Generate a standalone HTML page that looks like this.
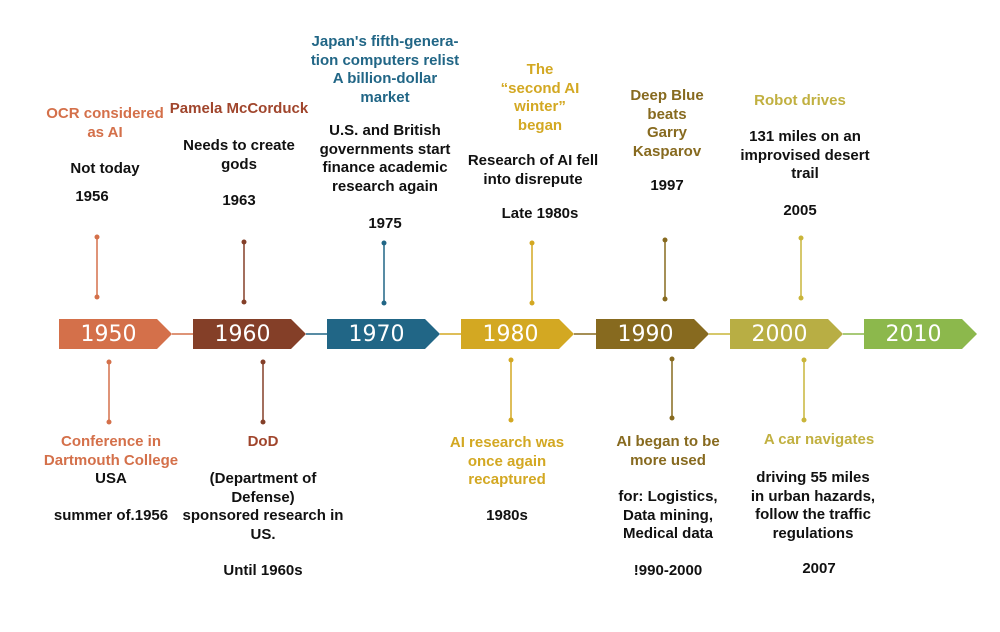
<!DOCTYPE html>
<html><head><meta charset="utf-8"><style>
body{margin:0;width:1000px;height:632px;background:#fff;position:relative;overflow:hidden;font-family:"Liberation Sans",sans-serif}
.t{position:absolute;width:260px;margin-left:-130px;text-align:center;font-weight:bold;font-size:15px;line-height:18.6px;color:#111;white-space:nowrap}
.box{position:absolute;top:319px;height:30px;width:113px;clip-path:polygon(0 0,98px 0,113px 15px,98px 30px,0 30px);color:#fff;font-size:22px;line-height:31px;text-indent:-14px;text-align:center;font-family:"DejaVu Sans","Liberation Sans",sans-serif}
</style></head><body>
<svg width="1000" height="632" style="position:absolute;left:0;top:0">
<g stroke-width="1.5">
<line x1="172" y1="334" x2="193" y2="334" stroke="#D4704A"/>
<line x1="306" y1="334" x2="327" y2="334" stroke="#216686"/>
<line x1="440" y1="334" x2="461" y2="334" stroke="#D3A822"/>
<line x1="574" y1="334" x2="596" y2="334" stroke="#876A1F"/>
<line x1="709" y1="334" x2="730" y2="334" stroke="#C9B53A"/>
<line x1="843" y1="334" x2="864" y2="334" stroke="#8CB84C"/>
</g>
<g>
<line x1="97" y1="237" x2="97" y2="297" stroke="#D4704A" stroke-width="1.5"/><circle cx="97" cy="237" r="2.5" fill="#D4704A"/><circle cx="97" cy="297" r="2.5" fill="#D4704A"/>
<line x1="244" y1="242" x2="244" y2="302" stroke="#843F28" stroke-width="1.5"/><circle cx="244" cy="242" r="2.5" fill="#843F28"/><circle cx="244" cy="302" r="2.5" fill="#843F28"/>
<line x1="384" y1="243" x2="384" y2="303" stroke="#216686" stroke-width="1.5"/><circle cx="384" cy="243" r="2.5" fill="#216686"/><circle cx="384" cy="303" r="2.5" fill="#216686"/>
<line x1="532" y1="243" x2="532" y2="303" stroke="#D3A822" stroke-width="1.5"/><circle cx="532" cy="243" r="2.5" fill="#D3A822"/><circle cx="532" cy="303" r="2.5" fill="#D3A822"/>
<line x1="665" y1="240" x2="665" y2="299" stroke="#876A1F" stroke-width="1.5"/><circle cx="665" cy="240" r="2.5" fill="#876A1F"/><circle cx="665" cy="299" r="2.5" fill="#876A1F"/>
<line x1="801" y1="238" x2="801" y2="298" stroke="#C9B53A" stroke-width="1.5"/><circle cx="801" cy="238" r="2.5" fill="#C9B53A"/><circle cx="801" cy="298" r="2.5" fill="#C9B53A"/>
<line x1="109" y1="362" x2="109" y2="422" stroke="#D4704A" stroke-width="1.5"/><circle cx="109" cy="362" r="2.5" fill="#D4704A"/><circle cx="109" cy="422" r="2.5" fill="#D4704A"/>
<line x1="263" y1="362" x2="263" y2="422" stroke="#843F28" stroke-width="1.5"/><circle cx="263" cy="362" r="2.5" fill="#843F28"/><circle cx="263" cy="422" r="2.5" fill="#843F28"/>
<line x1="511" y1="360" x2="511" y2="420" stroke="#D3A822" stroke-width="1.5"/><circle cx="511" cy="360" r="2.5" fill="#D3A822"/><circle cx="511" cy="420" r="2.5" fill="#D3A822"/>
<line x1="672" y1="359" x2="672" y2="418" stroke="#876A1F" stroke-width="1.5"/><circle cx="672" cy="359" r="2.5" fill="#876A1F"/><circle cx="672" cy="418" r="2.5" fill="#876A1F"/>
<line x1="804" y1="360" x2="804" y2="420" stroke="#C9B53A" stroke-width="1.5"/><circle cx="804" cy="360" r="2.5" fill="#C9B53A"/><circle cx="804" cy="420" r="2.5" fill="#C9B53A"/>
</g>
</svg>
<div class="box" style="left:59px;background:#D4704A">1950</div>
<div class="box" style="left:193px;background:#843F28">1960</div>
<div class="box" style="left:327px;background:#216686">1970</div>
<div class="box" style="left:461px;background:#D3A822">1980</div>
<div class="box" style="left:596px;background:#876A1F">1990</div>
<div class="box" style="left:730px;background:#B8AE44">2000</div>
<div class="box" style="left:864px;background:#8CB84C">2010</div>

<div class="t" style="left:105px;top:105px;color:#D4704A">OCR considered<br>as AI</div>
<div class="t" style="left:105px;top:160px">Not today</div>
<div class="t" style="left:92px;top:188px">1956</div>

<div class="t" style="left:239px;top:100px;color:#A0452C">Pamela McCorduck</div>
<div class="t" style="left:239px;top:137px">Needs to create<br>gods</div>
<div class="t" style="left:239px;top:192px">1963</div>

<div class="t" style="left:385px;top:33px;color:#216686">Japan's fifth-genera-<br>tion computers relist<br>A billion-dollar<br>market</div>
<div class="t" style="left:385px;top:122px">U.S. and British<br>governments start<br>finance academic<br>research again</div>
<div class="t" style="left:385px;top:215px">1975</div>

<div class="t" style="left:540px;top:61px;color:#D3A822">The<br>“second AI<br>winter”<br>began</div>
<div class="t" style="left:533px;top:152px">Research of AI fell<br>into disrepute</div>
<div class="t" style="left:540px;top:205px">Late 1980s</div>

<div class="t" style="left:667px;top:87px;color:#876A1F">Deep Blue<br>beats<br>Garry<br>Kasparov</div>
<div class="t" style="left:667px;top:177px">1997</div>

<div class="t" style="left:800px;top:92px;color:#C1B040">Robot drives</div>
<div class="t" style="left:805px;top:128px">131 miles on an<br>improvised desert<br>trail</div>
<div class="t" style="left:800px;top:202px">2005</div>

<div class="t" style="left:111px;top:433px;color:#D4704A">Conference in<br>Dartmouth College</div>
<div class="t" style="left:111px;top:470px">USA</div>
<div class="t" style="left:111px;top:507px">summer of.1956</div>

<div class="t" style="left:263px;top:433px;color:#A0452C">DoD</div>
<div class="t" style="left:263px;top:470px">(Department of<br>Defense)<br>sponsored research in<br>US.</div>
<div class="t" style="left:263px;top:562px">Until 1960s</div>

<div class="t" style="left:507px;top:434px;color:#D3A822">AI research was<br>once again<br>recaptured</div>
<div class="t" style="left:507px;top:507px">1980s</div>

<div class="t" style="left:668px;top:433px;color:#876A1F">AI began to be<br>more used</div>
<div class="t" style="left:668px;top:488px">for: Logistics,<br>Data mining,<br>Medical data</div>
<div class="t" style="left:668px;top:562px">!990-2000</div>

<div class="t" style="left:819px;top:431px;color:#C1B040">A car navigates</div>
<div class="t" style="left:813px;top:469px">driving 55 miles<br>in urban hazards,<br>follow the traffic<br>regulations</div>
<div class="t" style="left:819px;top:560px">2007</div>
</body></html>
